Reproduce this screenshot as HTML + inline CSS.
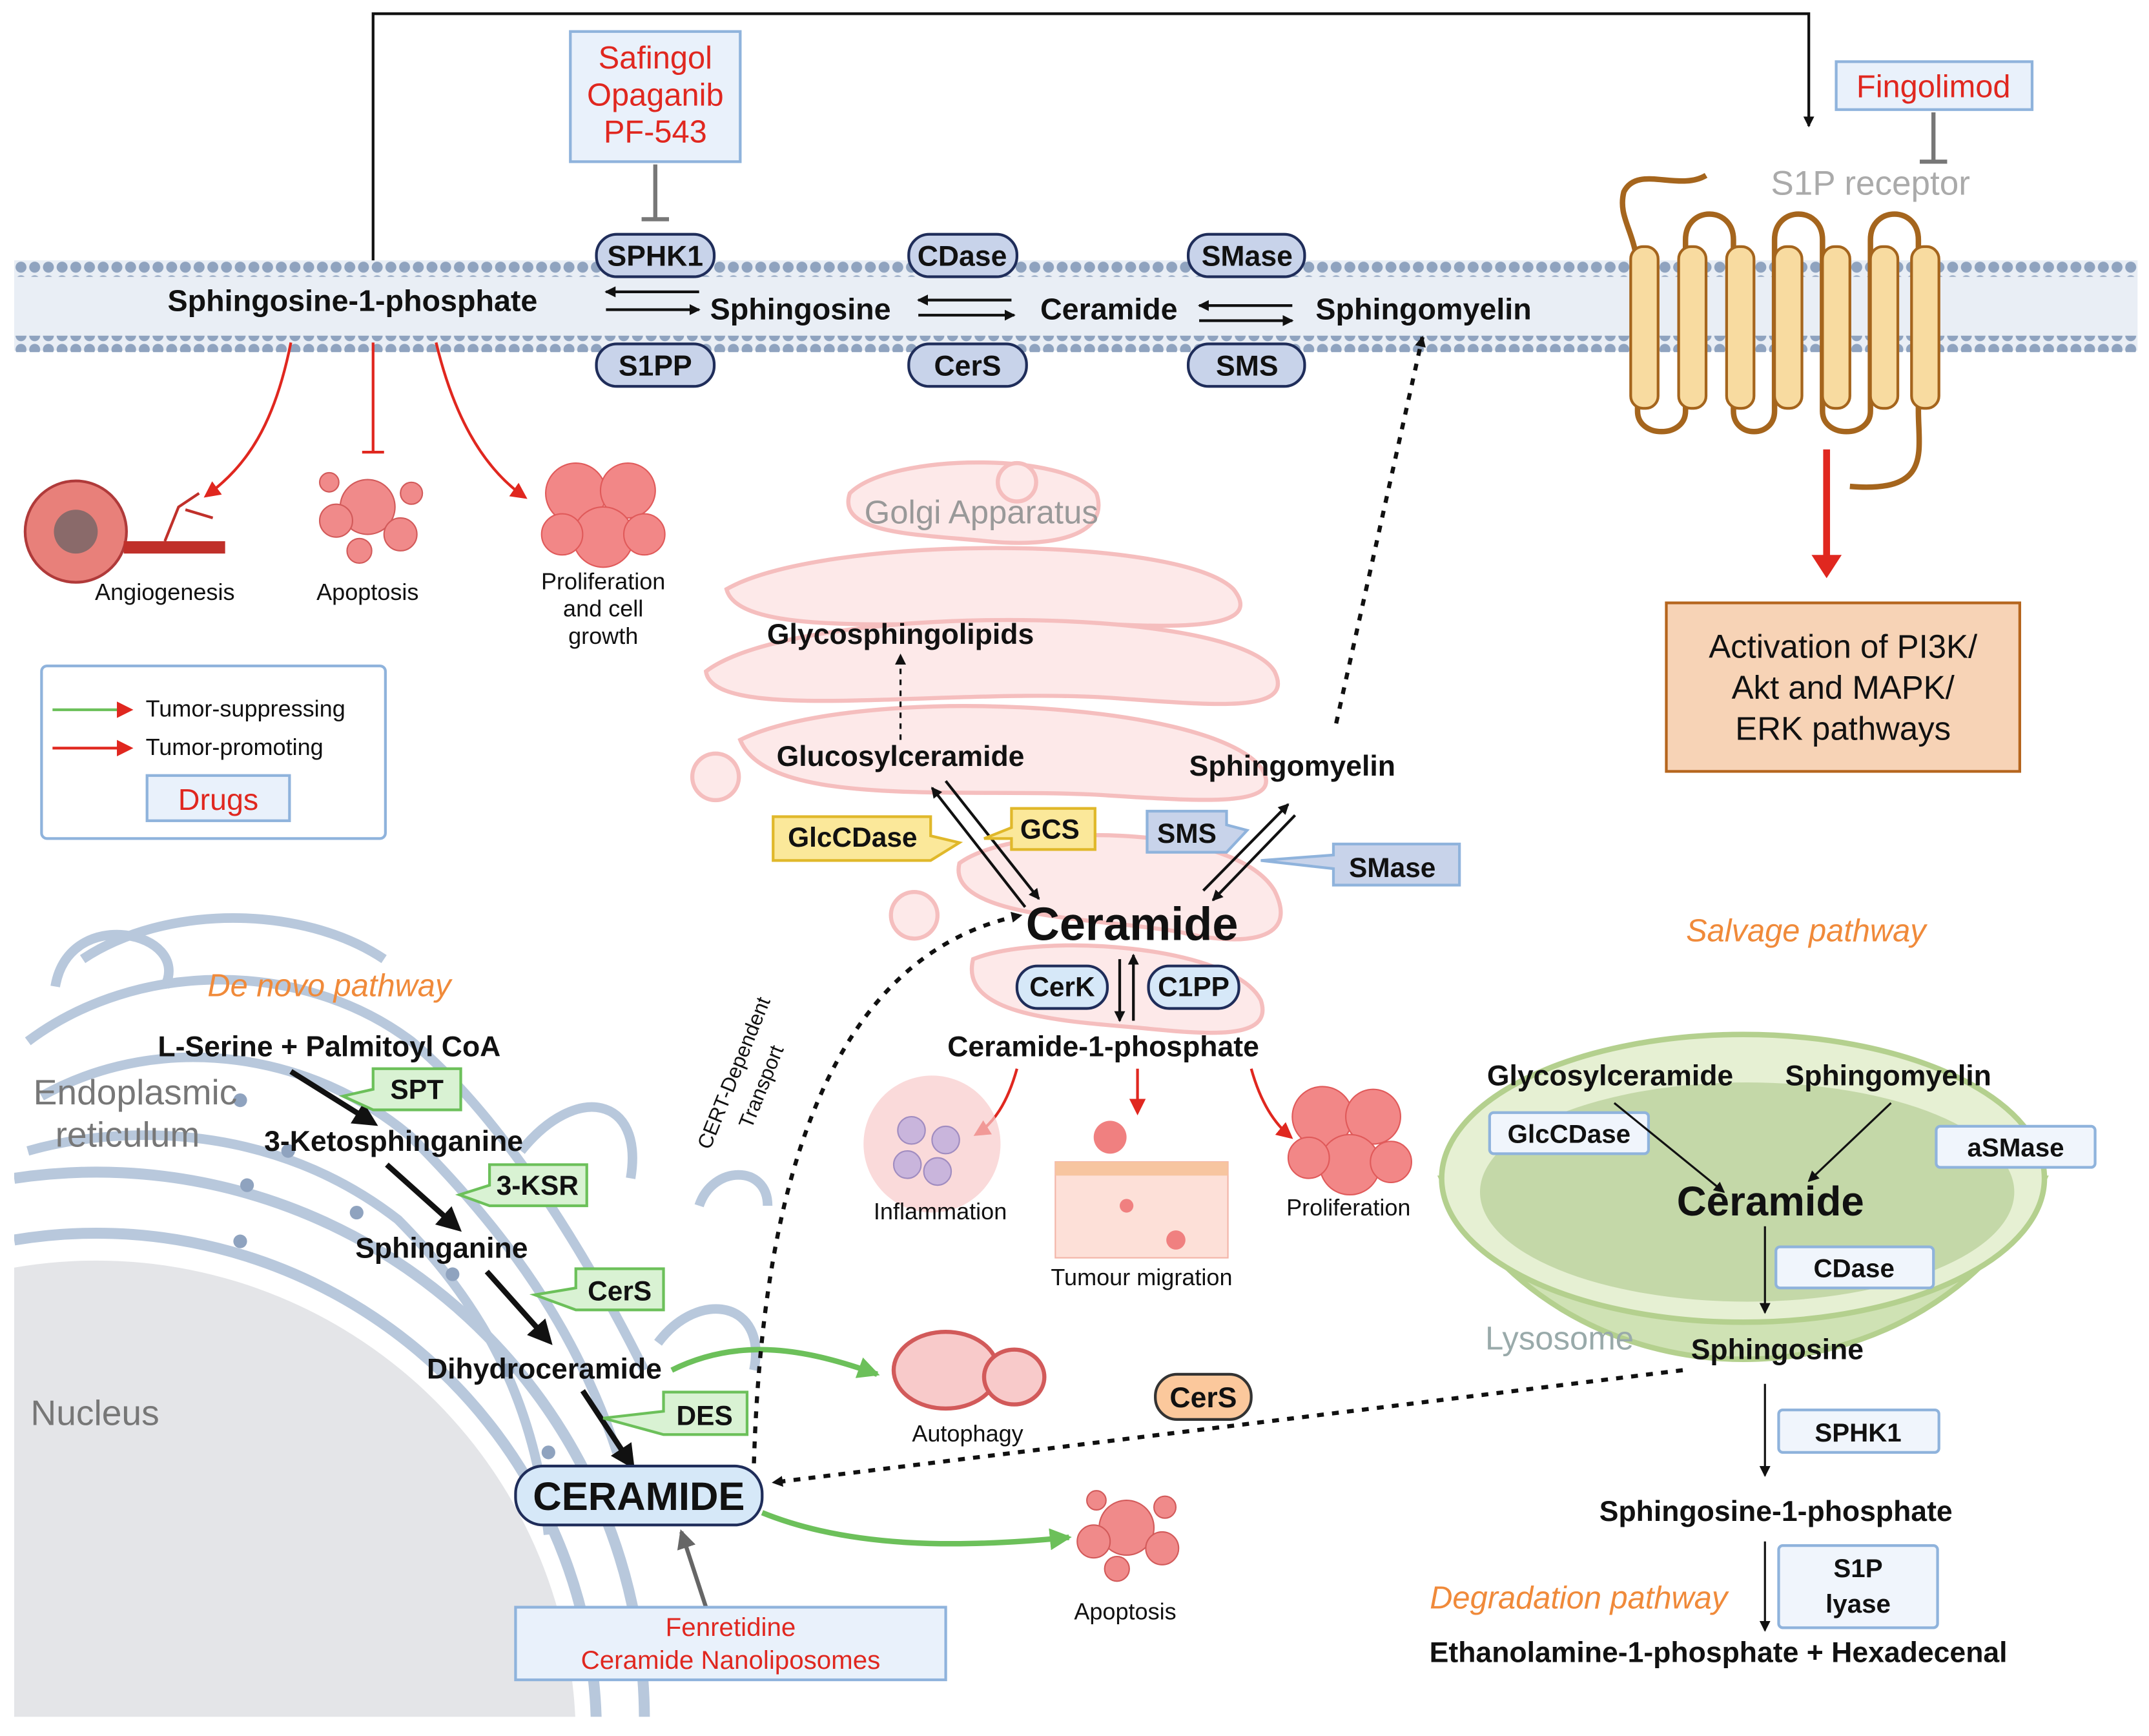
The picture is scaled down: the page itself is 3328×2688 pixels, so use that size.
<!DOCTYPE html>
<html><head><meta charset="utf-8">
<style>
html,body{margin:0;padding:0;background:#fff;width:3328px;height:2688px;overflow:hidden;position:relative;}
svg{display:block;position:absolute;left:0;top:0;}
text{font-family:"Liberation Sans",sans-serif;}
.b{font-weight:bold;fill:#111;}
.r{fill:#e0271f;}
</style></head><body>
<svg width="3328" height="2688" viewBox="0 0 1568 1267" xmlns="http://www.w3.org/2000/svg" overflow="hidden">
<defs>
<marker id="ak" markerWidth="8" markerHeight="8" refX="7" refY="4" orient="auto" markerUnits="userSpaceOnUse"><path d="M0,0 L8,4 L0,8 z" fill="#111"/></marker>
<marker id="ar" markerWidth="12" markerHeight="12" refX="10" refY="6" orient="auto" markerUnits="userSpaceOnUse"><path d="M0,0 L12,6 L0,12 z" fill="#e0271f"/></marker>
<marker id="ag" markerWidth="16" markerHeight="16" refX="14" refY="8" orient="auto" markerUnits="userSpaceOnUse"><path d="M0,0 L16,8 L0,16 z" fill="#6cc05a"/></marker>
<marker id="agr" markerWidth="14" markerHeight="14" refX="12" refY="7" orient="auto" markerUnits="userSpaceOnUse"><path d="M0,0 L14,7 L0,14 z" fill="#666"/></marker>
<marker id="abig" markerWidth="18" markerHeight="18" refX="9" refY="9" orient="auto" markerUnits="userSpaceOnUse"><path d="M0,0 L18,9 L0,18 z" fill="#111"/></marker>
<pattern id="dots" width="10" height="10" patternUnits="userSpaceOnUse"><circle cx="5" cy="5" r="4" fill="#8fa3bf"/></pattern>
<clipPath id="cl"><rect x="10" y="640" width="620" height="613"/></clipPath>
</defs>

<g clip-path="url(#cl)">
<circle cx="70" cy="1270" r="350" fill="#e4e5e8"/>
<path d="M10,905 A365,365 0 0 1 435,1262" fill="none" stroke="#b8c8dc" stroke-width="8"/>
<path d="M10,860 A400,400 0 0 1 470,1262" fill="none" stroke="#b8c8dc" stroke-width="8"/>
<g fill="none" stroke="#b8c8dc" stroke-width="7">
<path d="M20,760 C100,700 220,700 300,760 C360,810 420,900 470,1000"/>
<path d="M30,800 C120,750 230,770 300,830 C370,900 420,970 450,1060"/>
<path d="M20,840 C90,820 200,820 290,890 C350,950 390,1020 400,1120"/>
<path d="M40,720 C50,660 140,680 120,720"/>
<path d="M60,700 C120,660 220,660 280,700"/>
<path d="M380,840 C420,790 470,800 460,860"/>
<path d="M480,980 C510,940 560,950 550,1000"/>
<path d="M510,880 C520,850 560,850 560,880"/>
</g>
<g fill="#8fa3bf">
<circle cx="175" cy="803" r="5"/><circle cx="210" cy="840" r="5"/><circle cx="180" cy="865" r="5"/><circle cx="260" cy="885" r="5"/><circle cx="330" cy="930" r="5"/><circle cx="370" cy="1000" r="5"/><circle cx="400" cy="1060" r="5"/><circle cx="175" cy="906" r="5"/>
</g>
</g>

<g fill="#fde6e6" stroke="#f4b3b3" stroke-width="3" opacity="0.85">
<path d="M620,360 C650,330 780,330 800,360 C810,390 770,400 720,395 C670,390 610,390 620,360z"/>
<path d="M530,430 C600,390 860,390 900,430 C920,455 880,460 800,455 C700,450 540,470 530,430z"/>
<path d="M515,490 C580,440 900,440 930,490 C945,520 890,515 820,510 C700,500 520,530 515,490z"/>
<path d="M540,540 C620,500 880,510 920,560 C940,590 880,585 800,580 C700,575 560,590 540,540z"/>
<path d="M700,630 C740,600 900,600 930,650 C950,690 900,690 860,680 C800,670 690,670 700,630z"/>
<path d="M710,700 C760,680 900,690 920,730 C930,760 880,755 830,750 C770,745 700,740 710,700z"/>
<circle cx="522" cy="567" r="17"/><circle cx="667" cy="668" r="17"/><circle cx="742" cy="352" r="14"/>
</g>
<text x="716" y="382" font-size="24" fill="#999" text-anchor="middle">Golgi Apparatus</text>

<path d="M1052,860 A240,220 0 0 0 1492,860 Z" fill="#cfe2b4" stroke="#b4d08e" stroke-width="4"/>
<ellipse cx="1272" cy="860" rx="220" ry="105" fill="#e6f0d3" stroke="#b4d08e" stroke-width="4"/>
<ellipse cx="1275" cy="870" rx="195" ry="80" fill="#c4d8a8"/>
<text x="1138" y="985" font-size="24" fill="#9aa" text-anchor="middle">Lysosome</text>

<rect x="10" y="190" width="1550" height="66" fill="#e9eef5"/>
<rect x="10" y="190" width="1550" height="12" fill="url(#dots)"/>
<rect x="10" y="245" width="1550" height="12" fill="url(#dots)"/>

<path d="M272,190 L272,10 L1320,10 L1320,92" fill="none" stroke="#111" stroke-width="2" marker-end="url(#ak)"/>

<rect x="416" y="23" width="124" height="95" fill="#e9f1fb" stroke="#8fb3dc" stroke-width="2"/>
<text x="478" y="50" font-size="23" class="r" text-anchor="middle">Safingol</text>
<text x="478" y="77" font-size="23" class="r" text-anchor="middle">Opaganib</text>
<text x="478" y="104" font-size="23" class="r" text-anchor="middle">PF-543</text>
<path d="M478,120 V160 M468,160 H488" stroke="#777" stroke-width="3"/>

<rect x="1340" y="45" width="143" height="35" fill="#e9f1fb" stroke="#8fb3dc" stroke-width="2"/>
<text x="1411" y="71" font-size="23" class="r" text-anchor="middle">Fingolimod</text>
<path d="M1411,82 V118 M1401,118 H1421" stroke="#777" stroke-width="3"/>

<g fill="#c8d3ea" stroke="#1f2d5a" stroke-width="2">
<rect x="435" y="171" width="86" height="31" rx="15"/><rect x="435" y="251" width="86" height="31" rx="15"/>
<rect x="663" y="171" width="79" height="31" rx="15"/><rect x="663" y="251" width="86" height="31" rx="15"/>
<rect x="867" y="171" width="85" height="31" rx="15"/><rect x="867" y="251" width="85" height="31" rx="15"/>
</g>
<g class="b" font-size="21" text-anchor="middle">
<text x="478" y="194">SPHK1</text><text x="478" y="274">S1PP</text>
<text x="702" y="194">CDase</text><text x="706" y="274">CerS</text>
<text x="910" y="194">SMase</text><text x="910" y="274">SMS</text>
</g>
<g class="b" font-size="22">
<text x="122" y="227">Sphingosine-1-phosphate</text>
<text x="518" y="233">Sphingosine</text>
<text x="759" y="233">Ceramide</text>
<text x="960" y="233">Sphingomyelin</text>
</g>
<g stroke="#111" stroke-width="2" fill="none" marker-end="url(#ak)">
<path d="M510,213 H442"/><path d="M442,226 H510"/>
<path d="M738,219 H670"/><path d="M670,230 H740"/>
<path d="M943,223 H875"/><path d="M875,234 H943"/>
</g>

<text x="1365" y="142" font-size="25" fill="#aaa" text-anchor="middle">S1P receptor</text>
<path d="M1245,128 C1225,140 1195,120 1185,140 C1180,160 1195,170 1195,200 V300 C1195,320 1230,320 1230,300 V175 C1230,150 1265,150 1265,175 V300 C1265,320 1295,320 1295,300 V175 C1295,150 1330,150 1330,175 V300 C1330,320 1365,320 1365,300 V175 C1365,150 1400,150 1400,175 V300 C1400,330 1410,360 1350,355" fill="none" stroke="#a5651d" stroke-width="4"/>
<g fill="#f8dba0" stroke="#a5651d" stroke-width="2">
<rect x="1190" y="180" width="20" height="118" rx="9"/><rect x="1225" y="180" width="20" height="118" rx="9"/>
<rect x="1260" y="180" width="20" height="118" rx="9"/><rect x="1295" y="180" width="20" height="118" rx="9"/>
<rect x="1330" y="180" width="20" height="118" rx="9"/><rect x="1365" y="180" width="20" height="118" rx="9"/>
<rect x="1395" y="180" width="20" height="118" rx="9"/>
</g>
<path d="M1333,328 V410" stroke="#e0271f" stroke-width="5"/><path d="M1322,405 L1344,405 L1333,422z" fill="#e0271f"/>
<rect x="1216" y="440" width="258" height="123" fill="#f7d3b6" stroke="#b5651d" stroke-width="2"/>
<g font-size="24" fill="#111" text-anchor="middle"><text x="1345" y="480">Activation of  PI3K/</text><text x="1345" y="510">Akt and MAPK/</text><text x="1345" y="540">ERK pathways</text></g>

<path d="M212,250 C200,310 180,340 150,362" fill="none" stroke="#e0271f" stroke-width="2" marker-end="url(#ar)"/>
<path d="M272,250 V330 M264,330 H280" stroke="#e0271f" stroke-width="2"/>
<path d="M318,250 C330,300 350,340 383,363" fill="none" stroke="#e0271f" stroke-width="2" marker-end="url(#ar)"/>
<circle cx="55" cy="388" r="37" fill="#e8807a" stroke="#b03a3a" stroke-width="2"/><circle cx="55" cy="388" r="16" fill="#8a6a6a"/>
<rect x="90" y="395" width="74" height="9" fill="#c0302a"/>
<path d="M120,395 L130,370 L145,360 M135,372 L155,378" stroke="#c0302a" stroke-width="2" fill="none"/>
<text x="120" y="438" font-size="17" fill="#111" text-anchor="middle">Angiogenesis</text>
<g fill="#f08a8a" stroke="#d25a5a"><circle cx="268" cy="370" r="20"/><circle cx="245" cy="380" r="12"/><circle cx="292" cy="390" r="12"/><circle cx="262" cy="402" r="9"/><circle cx="240" cy="352" r="7"/><circle cx="300" cy="360" r="8"/></g>
<text x="268" y="438" font-size="17" fill="#111" text-anchor="middle">Apoptosis</text>
<g fill="#f28787" stroke="#e05a5a"><circle cx="420" cy="360" r="22"/><circle cx="458" cy="358" r="20"/><circle cx="440" cy="392" r="22"/><circle cx="410" cy="390" r="15"/><circle cx="470" cy="390" r="15"/></g>
<g font-size="17" fill="#111" text-anchor="middle"><text x="440" y="430">Proliferation</text><text x="440" y="450">and cell</text><text x="440" y="470">growth</text></g>

<rect x="30" y="486" width="251" height="126" rx="4" fill="#fff" stroke="#8fb3dc" stroke-width="2"/>
<path d="M38,518 H95" stroke="#6cc05a" stroke-width="2" marker-end="url(#ar)"/>
<path d="M38,546 H95" stroke="#e0271f" stroke-width="2" marker-end="url(#ar)"/>
<text x="106" y="523" font-size="17" fill="#111">Tumor-suppressing</text>
<text x="106" y="551" font-size="17" fill="#111">Tumor-promoting</text>
<rect x="107" y="566" width="104" height="33" fill="#e9f1fb" stroke="#8fb3dc" stroke-width="2"/>
<text x="159" y="591" font-size="22" class="r" text-anchor="middle">Drugs</text>

<text x="657" y="470" font-size="21" class="b" text-anchor="middle">Glycosphingolipids</text>
<path d="M657,540 V478" stroke="#111" stroke-width="1.5" stroke-dasharray="4,4" marker-end="url(#ak)"/>
<text x="657" y="559" font-size="21" class="b" text-anchor="middle">Glucosylceramide</text>
<path d="M690,570 L758,656" stroke="#111" stroke-width="2" marker-end="url(#ak)"/>
<path d="M748,662 L680,575" stroke="#111" stroke-width="2" marker-end="url(#ak)"/>
<polygon points="564,596 679,596 679,610 700,615 679,628 564,628" fill="#fbe89a" stroke="#e0b82a" stroke-width="2"/>
<text x="622" y="618" font-size="20" class="b" text-anchor="middle">GlcCDase</text>
<polygon points="738,590 799,590 799,620 738,620 738,612 718,612 738,604" fill="#fbe89a" stroke="#e0b82a" stroke-width="2"/>
<text x="766" y="612" font-size="20" class="b" text-anchor="middle">GCS</text>
<text x="943" y="566" font-size="21" class="b" text-anchor="middle">Sphingomyelin</text>
<path d="M945,595 L885,657" stroke="#111" stroke-width="2" marker-end="url(#ak)"/>
<path d="M878,650 L940,587" stroke="#111" stroke-width="2" marker-end="url(#ak)"/>
<polygon points="837,592 895,592 895,602 910,606 895,622 837,622" fill="#c8d3ea" stroke="#8fb3dc" stroke-width="2"/>
<text x="866" y="615" font-size="20" class="b" text-anchor="middle">SMS</text>
<polygon points="973,616 1065,616 1065,646 973,646 973,634 920,628 973,624" fill="#c8d3ea" stroke="#8fb3dc" stroke-width="2"/>
<text x="1016" y="640" font-size="20" class="b" text-anchor="middle">SMase</text>
<path d="M975,528 L1038,246" stroke="#111" stroke-width="3" stroke-dasharray="5,6" fill="none" marker-end="url(#ak)"/>
<text x="826" y="686" font-size="34" class="b" text-anchor="middle">Ceramide</text>
<path d="M817,700 V745" stroke="#111" stroke-width="2" marker-end="url(#ak)"/>
<path d="M827,745 V697" stroke="#111" stroke-width="2" marker-end="url(#ak)"/>
<g fill="#d6e8f8" stroke="#1f2d5a" stroke-width="2"><rect x="742" y="705" width="66" height="31" rx="15"/><rect x="838" y="705" width="66" height="31" rx="15"/></g>
<text x="775" y="727" font-size="20" class="b" text-anchor="middle">CerK</text>
<text x="871" y="727" font-size="20" class="b" text-anchor="middle">C1PP</text>
<text x="805" y="771" font-size="21" class="b" text-anchor="middle">Ceramide-1-phosphate</text>
<path d="M742,780 C735,805 725,820 712,828" fill="none" stroke="#e0271f" stroke-width="2" marker-end="url(#ar)"/>
<path d="M830,780 V812" stroke="#e0271f" stroke-width="2" marker-end="url(#ar)"/>
<path d="M913,780 C920,805 930,820 942,830" fill="none" stroke="#e0271f" stroke-width="2" marker-end="url(#ar)"/>
<circle cx="680" cy="835" r="50" fill="#f8caca" opacity="0.7"/>
<g fill="#c9b5dc" stroke="#a08cc0"><circle cx="665" cy="825" r="10"/><circle cx="690" cy="832" r="10"/><circle cx="662" cy="850" r="10"/><circle cx="684" cy="855" r="10"/></g>
<text x="686" y="890" font-size="17" fill="#111" text-anchor="middle">Inflammation</text>
<rect x="770" y="848" width="126" height="70" fill="#fde0d8" stroke="#f3b5a8"/>
<rect x="770" y="848" width="126" height="10" fill="#f7c5a0"/>
<g fill="#f08080"><circle cx="810" cy="830" r="12"/><circle cx="822" cy="880" r="5"/><circle cx="858" cy="905" r="7"/></g>
<text x="833" y="938" font-size="17" fill="#111" text-anchor="middle">Tumour migration</text>
<g fill="#f28787" stroke="#e05a5a"><circle cx="965" cy="815" r="22"/><circle cx="1002" cy="815" r="20"/><circle cx="985" cy="850" r="22"/><circle cx="955" cy="845" r="15"/><circle cx="1015" cy="848" r="15"/></g>
<text x="984" y="887" font-size="17" fill="#111" text-anchor="middle">Proliferation</text>

<text x="240" y="727" font-size="23" fill="#f08a3a" font-style="italic" text-anchor="middle">De novo pathway</text>
<text x="240" y="771" font-size="21" class="b" text-anchor="middle">L-Serine + Palmitoyl CoA</text>
<text x="24" y="806" font-size="26" fill="#777">Endoplasmic</text>
<text x="40" y="837" font-size="26" fill="#777">reticulum</text>
<text x="287" y="840" font-size="21" class="b" text-anchor="middle">3-Ketosphinganine</text>
<text x="322" y="918" font-size="21" class="b" text-anchor="middle">Sphinganine</text>
<text x="397" y="1006" font-size="21" class="b" text-anchor="middle">Dihydroceramide</text>
<text x="22" y="1040" font-size="26" fill="#777">Nucleus</text>
<g stroke="#111" stroke-width="4" marker-end="url(#abig)">
<path d="M212,782 L268,817"/><path d="M282,850 L330,893"/><path d="M355,928 L397,975"/><path d="M425,1015 L458,1065"/>
</g>
<g fill="#d9f2d3" stroke="#6cc05a" stroke-width="2">
<polygon points="272,780 336,780 336,810 272,810 250,800 272,795"/>
<polygon points="357,850 428,850 428,880 357,880 335,872 357,865"/>
<polygon points="420,926 484,926 484,956 420,956 390,945 420,940"/>
<polygon points="484,1016 545,1016 545,1047 484,1047 440,1035 484,1030"/>
</g>
<g font-size="20" class="b" text-anchor="middle"><text x="304" y="802">SPT</text><text x="392" y="872">3-KSR</text><text x="452" y="949">CerS</text><text x="514" y="1040">DES</text></g>
<rect x="376" y="1070" width="180" height="43" rx="20" fill="#d6e8f8" stroke="#1f2d5a" stroke-width="2"/>
<text x="466" y="1102" font-size="29" class="b" text-anchor="middle">CERAMIDE</text>
<path d="M490,1000 C540,975 590,985 640,1003" fill="none" stroke="#6cc05a" stroke-width="4" marker-end="url(#ag)"/>
<path d="M556,1104 C620,1130 700,1130 780,1122" fill="none" stroke="#6cc05a" stroke-width="4" marker-end="url(#ag)"/>
<path d="M550,1068 C555,900 590,700 745,668" fill="none" stroke="#111" stroke-width="3" stroke-dasharray="5,6" marker-end="url(#ak)"/>
<text transform="translate(540,785) rotate(-68)" font-size="15" fill="#111" text-anchor="middle">CERT-Dependent</text>
<text transform="translate(560,795) rotate(-68)" font-size="15" fill="#111" text-anchor="middle">Transport</text>
<ellipse cx="690" cy="1000" rx="38" ry="28" fill="#f8caca" stroke="#d25a5a" stroke-width="3"/>
<ellipse cx="740" cy="1005" rx="22" ry="20" fill="#f8caca" stroke="#d25a5a" stroke-width="3"/>
<text x="706" y="1052" font-size="17" fill="#111" text-anchor="middle">Autophagy</text>
<g fill="#f08a8a" stroke="#d25a5a"><circle cx="822" cy="1115" r="20"/><circle cx="798" cy="1125" r="12"/><circle cx="848" cy="1130" r="12"/><circle cx="815" cy="1145" r="9"/><circle cx="800" cy="1095" r="7"/><circle cx="850" cy="1100" r="8"/></g>
<text x="821" y="1182" font-size="17" fill="#111" text-anchor="middle">Apoptosis</text>
<path d="M515,1173 L497,1118" stroke="#666" stroke-width="3" marker-end="url(#agr)"/>
<rect x="376" y="1173" width="314" height="53" fill="#e9f1fb" stroke="#8fb3dc" stroke-width="2"/>
<text x="533" y="1194" font-size="19" class="r" text-anchor="middle">Fenretidine</text>
<text x="533" y="1218" font-size="19" class="r" text-anchor="middle">Ceramide Nanoliposomes</text>

<text x="1318" y="687" font-size="23" fill="#f08a3a" font-style="italic" text-anchor="middle">Salvage pathway</text>
<text x="1175" y="792" font-size="21" class="b" text-anchor="middle">Glycosylceramide</text>
<text x="1378" y="792" font-size="21" class="b" text-anchor="middle">Sphingomyelin</text>
<rect x="1087" y="812" width="116" height="30" rx="3" fill="#f0f5fc" stroke="#8fb3dc" stroke-width="2"/>
<text x="1145" y="834" font-size="19" class="b" text-anchor="middle">GlcCDase</text>
<rect x="1413" y="822" width="116" height="30" rx="3" fill="#f0f5fc" stroke="#8fb3dc" stroke-width="2"/>
<text x="1471" y="844" font-size="19" class="b" text-anchor="middle">aSMase</text>
<path d="M1178,805 L1258,870" stroke="#111" stroke-width="1.5" marker-end="url(#ak)"/>
<path d="M1380,805 L1320,862" stroke="#111" stroke-width="1.5" marker-end="url(#ak)"/>
<text x="1292" y="887" font-size="30" class="b" text-anchor="middle">Ceramide</text>
<path d="M1288,895 V958" stroke="#111" stroke-width="1.5" marker-end="url(#ak)"/>
<rect x="1296" y="910" width="115" height="30" rx="3" fill="#f0f5fc" stroke="#8fb3dc" stroke-width="2"/>
<text x="1353" y="932" font-size="19" class="b" text-anchor="middle">CDase</text>
<text x="1297" y="992" font-size="21" class="b" text-anchor="middle">Sphingosine</text>
<path d="M1228,1000 L564,1082" stroke="#111" stroke-width="3" stroke-dasharray="5,6" marker-end="url(#ak)"/>
<rect x="843" y="1003" width="70" height="33" rx="16" fill="#fbc89c" stroke="#333" stroke-width="2"/>
<text x="878" y="1027" font-size="21" class="b" text-anchor="middle">CerS</text>
<path d="M1288,1010 V1077" stroke="#111" stroke-width="1.5" marker-end="url(#ak)"/>
<rect x="1298" y="1029" width="117" height="31" rx="3" fill="#f0f5fc" stroke="#8fb3dc" stroke-width="2"/>
<text x="1356" y="1052" font-size="19" class="b" text-anchor="middle">SPHK1</text>
<text x="1296" y="1110" font-size="21" class="b" text-anchor="middle">Sphingosine-1-phosphate</text>
<path d="M1288,1125 V1190" stroke="#111" stroke-width="1.5" marker-end="url(#ak)"/>
<rect x="1298" y="1128" width="116" height="60" rx="3" fill="#f0f5fc" stroke="#8fb3dc" stroke-width="2"/>
<text x="1356" y="1151" font-size="19" class="b" text-anchor="middle">S1P</text>
<text x="1356" y="1177" font-size="19" class="b" text-anchor="middle">lyase</text>
<text x="1152" y="1174" font-size="23" fill="#f08a3a" font-style="italic" text-anchor="middle">Degradation pathway</text>
<text x="1254" y="1213" font-size="21" class="b" text-anchor="middle">Ethanolamine-1-phosphate + Hexadecenal</text>
</svg>
</body></html>
